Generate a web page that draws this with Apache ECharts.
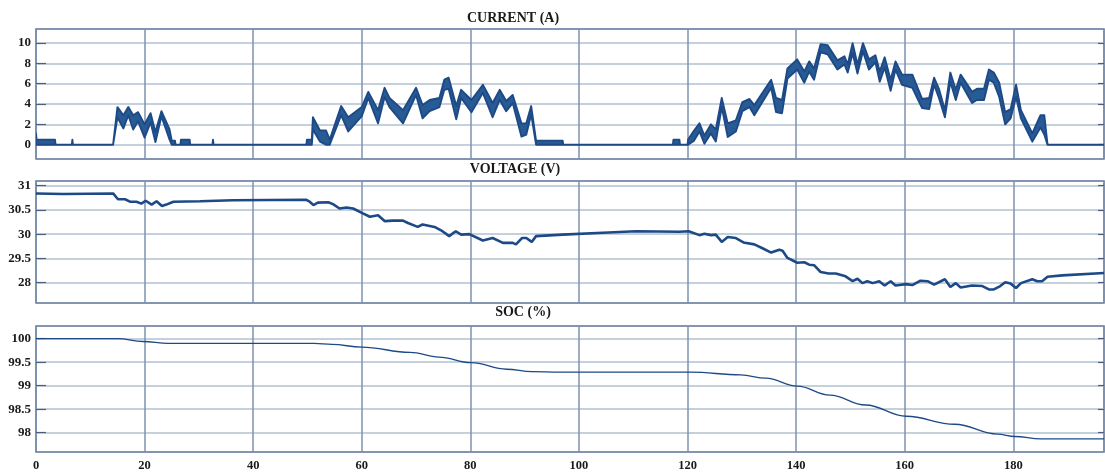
<!DOCTYPE html>
<html>
<head>
<meta charset="utf-8">
<script src="https://cdn.jsdelivr.net/npm/echarts@6/dist/echarts.min.js"></script>
<style>html,body{margin:0;padding:0;background:#fff;}#c{width:1105px;height:472px;}</style>
</head>
<body>
<div id="c"></div>
<script>
// ---- DATA ----
const titles = ['CURRENT (A)', 'VOLTAGE (V)', 'SOC (%)'];
const xTicks = [0, 20, 40, 60, 80, 100, 120, 140, 160, 180];
const curTicks = [0, 2, 4, 6, 8, 10];
const voltTicks = [29, 29.5, 30, 30.5, 31];
const voltTickLabels = ['28', '29.5', '30', '30.5', '31'];
const socTicks = [98, 98.5, 99, 99.5, 100];

const curT = [0, 0.1, 3.5, 3.6, 6.6, 6.7, 6.8, 14.2, 15, 16.1, 17, 17.9, 18.8, 20, 21.1, 22, 23.1, 24.6, 25, 25.6, 25.7, 26.6, 26.7, 28.3, 28.4, 32.5, 32.6, 32.7, 49.8, 49.9, 50.8, 51, 52.3, 53.4, 54.1, 56.2, 57.5, 60, 61.2, 63, 64.2, 65.1, 67.6, 70, 71.2, 72.5, 74.3, 75.2, 76, 77.4, 78.3, 80.2, 82.3, 84.1, 85.4, 86.6, 87.8, 89.4, 90.3, 91.2, 92.1, 97, 97.1, 117.3, 117.4, 118.5, 118.6, 120, 120.1, 121.2, 122.2, 123.1, 124.3, 125.2, 126.3, 127.4, 128.9, 130.1, 131.4, 132.3, 135.4, 136.3, 137.4, 138.4, 140.2, 141.5, 142.4, 143.3, 144.5, 145.8, 147.6, 148.9, 149.5, 150.4, 151.3, 152.3, 153.4, 154.6, 155.4, 156.3, 157.4, 158.3, 159.5, 161.4, 163.2, 164.5, 165.4, 166.3, 167.4, 168.4, 169.4, 170.3, 172.4, 173.3, 174.6, 175.5, 176.4, 177.4, 178.5, 179.5, 180.5, 181.4, 183.5, 185, 185.7, 186.3, 196.7];
const curUpper = [1.1, 0.5, 0.5, 0, 0, 0.5, 0, 0, 3.7, 2.9, 3.7, 2.9, 3.2, 2.0, 3.1, 1.25, 3.3, 1.5, 0.4, 0.4, 0, 0, 0.5, 0.5, 0, 0, 0.5, 0, 0, 0.5, 0.5, 2.7, 1.4, 1.4, 0.5, 3.8, 2.7, 3.7, 5.2, 3.4, 5.6, 4.6, 3.4, 5.6, 3.9, 4.4, 4.6, 6.4, 6.6, 3.8, 5.4, 4.4, 5.9, 4.1, 5.4, 4.3, 4.9, 2.1, 2.1, 3.8, 0.4, 0.4, 0, 0, 0.5, 0.5, 0, 0, 0.5, 1.4, 2.1, 0.9, 2.0, 1.5, 4.6, 2.1, 2.4, 4.2, 4.5, 3.9, 6.4, 4.6, 4.4, 7.5, 8.4, 7.2, 8.2, 7.5, 9.9, 9.8, 8.3, 8.7, 7.9, 10.0, 7.9, 10.0, 8.4, 8.8, 7.2, 8.6, 6.4, 8.2, 6.9, 6.9, 4.5, 4.6, 6.6, 5.5, 3.4, 7.1, 5.4, 6.9, 5.2, 5.5, 5.5, 7.4, 7.1, 6.1, 3.2, 3.5, 5.9, 3.4, 1.1, 2.9, 2.9, 0, 0];
const curLower = [0, 0, 0, 0, 0, 0, 0, 0, 2.7, 1.6, 2.9, 1.5, 2.3, 0.7, 2.2, 0.26, 2.8, 0.5, 0, 0, 0, 0, 0, 0, 0, 0, 0, 0, 0, 0, 0, 1.5, 0.3, 0, 0, 2.9, 1.3, 2.8, 4.6, 2.1, 4.7, 3.7, 2.1, 4.9, 2.6, 3.3, 3.7, 5.4, 5.5, 2.5, 4.6, 3.2, 5.1, 2.7, 4.4, 3.3, 4.1, 0.8, 1.0, 3.0, 0, 0, 0, 0, 0, 0, 0, 0, 0, 0.4, 1.3, 0.1, 1.1, 0.3, 3.7, 0.75, 1.3, 3.3, 3.7, 2.9, 5.6, 3.2, 3.1, 6.5, 7.4, 6.1, 7.2, 6.4, 9.1, 8.9, 7.4, 7.9, 7.1, 9.0, 7.0, 9.2, 7.4, 8.1, 6.2, 7.6, 5.3, 7.4, 5.9, 5.6, 3.6, 3.5, 5.9, 4.6, 2.7, 6.2, 4.4, 6.1, 4.1, 4.4, 4.4, 6.4, 6.1, 4.7, 2.0, 2.6, 4.7, 2.6, 0.3, 1.7, 1.0, 0, 0];

const voltT = [0, 5, 14.2, 14.5, 15.1, 16.4, 17.3, 18.5, 19.4, 20.2, 21.3, 22.2, 23.2, 24, 25.3, 30.2, 36.3, 49.8, 50.4, 51.1, 51.9, 53.8, 54.7, 55.9, 57.2, 58.4, 60.2, 61.5, 63, 64.2, 65.7, 67.6, 68.5, 70.3, 71.2, 73.4, 74.6, 76.1, 77.3, 78.3, 79.8, 82.3, 84.1, 86, 87.8, 88.4, 89.5, 90.3, 91.3, 92.1, 97, 104.4, 110.5, 118.5, 120.2, 122.2, 123.1, 124.3, 125.2, 126.3, 127.4, 128.9, 130.3, 132.3, 133.8, 135.4, 136.9, 137.5, 138.4, 140.2, 141.5, 142.4, 143.3, 144.5, 146, 147.3, 149.1, 150.4, 151.3, 152.2, 153.1, 154.1, 155.3, 156.3, 157.4, 158.3, 160.2, 161.4, 162.9, 164.2, 165.4, 167.4, 168.4, 169.4, 170.3, 172.4, 174.3, 175.5, 176.4, 177.6, 178.5, 179.5, 180.5, 181.4, 183.5, 184.4, 185.3, 186.3, 189, 196.7];
const voltV = [30.84, 30.83, 30.84, 30.82, 30.72, 30.72, 30.67, 30.67, 30.63, 30.69, 30.61, 30.68, 30.58, 30.61, 30.67, 30.68, 30.70, 30.71, 30.67, 30.60, 30.65, 30.66, 30.62, 30.53, 30.55, 30.53, 30.43, 30.36, 30.39, 30.27, 30.28, 30.28, 30.23, 30.15, 30.20, 30.15, 30.08, 29.96, 30.06, 29.99, 30.00, 29.87, 29.92, 29.82, 29.82, 29.79, 29.92, 29.92, 29.84, 29.96, 29.99, 30.03, 30.06, 30.05, 30.06, 29.98, 30.01, 29.98, 29.99, 29.84, 29.94, 29.92, 29.83, 29.79, 29.71, 29.62, 29.68, 29.66, 29.51, 29.41, 29.42, 29.37, 29.36, 29.22, 29.19, 29.19, 29.13, 29.03, 29.08, 28.99, 29.03, 28.99, 29.03, 28.94, 29.03, 28.94, 28.97, 28.95, 29.04, 29.03, 28.96, 29.07, 28.91, 28.99, 28.90, 28.94, 28.93, 28.86, 28.86, 28.93, 29.01, 28.98, 28.89, 28.99, 29.07, 29.03, 29.03, 29.12, 29.15, 29.20];

const socT = [0, 15.1, 19.7, 24.3, 51.2, 54.5, 60, 68.9, 74.2, 80.1, 86.7, 91.3, 96.4, 120.6, 129.8, 134.4, 140.2, 146.2, 152.8, 160.3, 169.2, 177.1, 180.3, 185, 196.7];
const socV = [100.0, 100.0, 99.94, 99.90, 99.90, 99.88, 99.82, 99.71, 99.61, 99.49, 99.35, 99.30, 99.29, 99.29, 99.23, 99.16, 98.99, 98.80, 98.59, 98.35, 98.18, 97.97, 97.92, 97.87, 97.87];

// ---- CHART ----
const FONT = "'Liberation Serif', 'DejaVu Serif', serif";
const LINE = '#1d4a86';
const FILL = '#285a94';
const FRAME = '#5b7398';
const HGRID = '#c5d0dd';
const VGRID = '#7d92b0';
const X_MAX = 196.7;

const zip = (a, b) => a.map((v, i) => [v, b[i]]);

const grids = [
  { left: 36, right: 1, top: 29, height: 130 },
  { left: 36, right: 1, top: 181, height: 122 },
  { left: 36, right: 1, top: 326, height: 129 }
];
const yRanges = [
  { min: -1.41, max: 11.39, ticks: curTicks, fmt: v => String(v) },
  { min: 28.58, max: 31.097, ticks: voltTicks, fmt: v => voltTickLabels[voltTicks.indexOf(v)] },
  { min: 97.59, max: 100.27, ticks: socTicks, fmt: v => String(v) }
];

const xAxis = grids.map((g, i) => ({
  type: 'value', gridIndex: i, min: 0, max: X_MAX, interval: 20,
  axisLine: { show: false },
  axisTick: { show: false },
  axisLabel: {
    show: i === 2, showMaxLabel: false, margin: 7,
    fontFamily: FONT, fontWeight: 'bold', fontSize: 12.5, color: '#1a1a1a',
    formatter: v => (xTicks.indexOf(v) >= 0 ? String(v) : '')
  },
  splitLine: { show: true, lineStyle: { color: VGRID, width: 1.5 } }
}));

const yAxis = [];
yRanges.forEach((r, i) => {
  yAxis.push({
    type: 'value', gridIndex: i, min: r.min, max: r.max, position: 'left',
    axisLine: { show: false },
    axisTick: { show: true, inside: true, length: 10, customValues: r.ticks, lineStyle: { color: '#4a5f80', width: 1.2 } },
    axisLabel: {
      show: true, customValues: r.ticks, margin: 5,
      fontFamily: FONT, fontWeight: 'bold', fontSize: 13, color: '#1a1a1a',
      formatter: r.fmt
    },
    splitLine: { show: true, lineStyle: { color: HGRID, width: 2 } }
  });
  yAxis.push({
    type: 'value', gridIndex: i, min: r.min, max: r.max, position: 'right',
    axisLine: { show: false },
    axisTick: { show: true, inside: true, length: 6, customValues: r.ticks, lineStyle: { color: '#4a5f80', width: 1.2 } },
    axisLabel: { show: false },
    splitLine: { show: false }
  });
});

// current envelope band drawn as one polygon through the axis scales
function renderBand(params, api) {
  if (params.dataIndex !== 0) return null;
  const pts = [];
  for (let i = 0; i < curT.length; i++) pts.push(api.coord([curT[i], curUpper[i]]));
  for (let i = curT.length - 1; i >= 0; i--) pts.push(api.coord([curT[i], curLower[i]]));
  return {
    type: 'polygon',
    shape: { points: pts },
    style: { fill: FILL, stroke: LINE, lineWidth: 1.9, lineJoin: 'round' }
  };
}

const option = {
  animation: false,
  backgroundColor: '#ffffff',
  title: titles.map((t, i) => ({
    text: t,
    left: [513, 515, 523][i],
    top: [11, 162, 305][i],
    textAlign: 'center',
    padding: 0,
    textStyle: { fontFamily: FONT, fontWeight: 'bold', fontSize: 14, color: '#1a1a1a' }
  })),
  grid: grids.map(g => Object.assign({ show: true, borderColor: FRAME, borderWidth: 1.5, backgroundColor: 'transparent' }, g)),
  xAxis: xAxis,
  yAxis: yAxis,
  series: [
    {
      type: 'custom', xAxisIndex: 0, yAxisIndex: 0, clip: true,
      renderItem: renderBand,
      encode: { x: 0, y: 1 },
      data: zip(curT, curUpper)
    },
    {
      type: 'line', xAxisIndex: 1, yAxisIndex: 2, symbol: 'none',
      data: zip(voltT, voltV),
      lineStyle: { color: LINE, width: 2.6 }
    },
    {
      type: 'line', xAxisIndex: 2, yAxisIndex: 4, symbol: 'none', smooth: 0.4, smoothMonotone: 'x',
      data: zip(socT, socV),
      lineStyle: { color: LINE, width: 1.3 }
    }
  ]
};

const chart = echarts.init(document.getElementById('c'), null, { renderer: 'canvas' });
chart.setOption(option);
</script>
</body>
</html>
